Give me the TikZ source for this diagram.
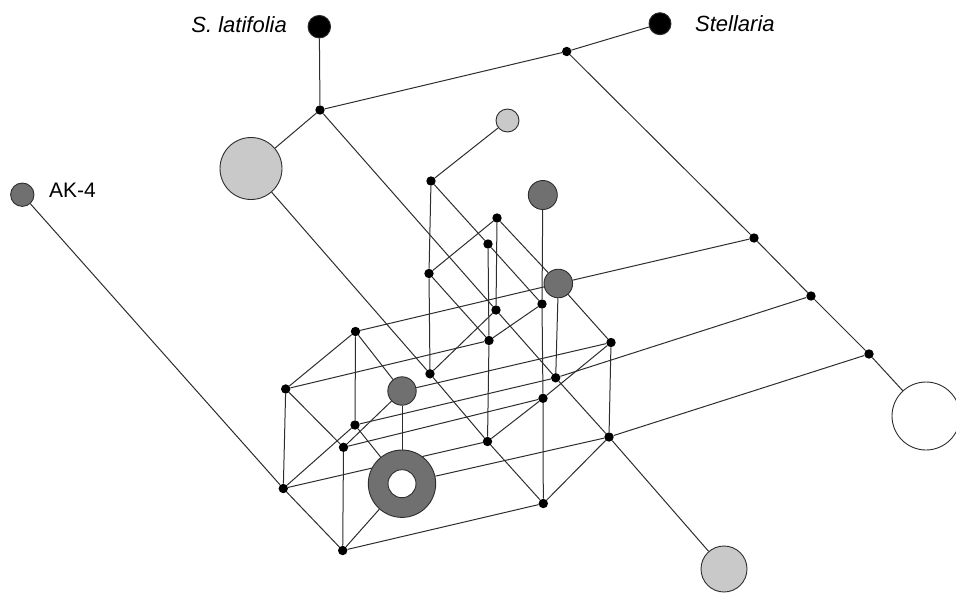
\documentclass[tikz,border=0pt]{standalone}
\usepackage{fontspec}
\setmainfont{Liberation Sans}
\usetikzlibrary{backgrounds}
\definecolor{lgray}{RGB}{201,201,201}
\definecolor{dgray}{RGB}{112,112,112}
\definecolor{edgec}{RGB}{45,45,45}
\tikzset{
  mv/.style={circle, fill=black, inner sep=0pt, minimum size=9.4pt},
  hap/.style={circle, draw=edgec, line width=0.9pt, inner sep=0pt},
  light/.style={hap, fill=lgray},
  dark/.style={hap, fill=dgray},
  blk/.style={hap, fill=black},
  wht/.style={hap, fill=white},
  link/.style={draw=edgec, line width=1pt},
  lab/.style={font=\fontsize{22}{26}\selectfont, inner sep=0pt}
}
\begin{document}
\begin{tikzpicture}[x=1pt, y=-1pt]
\useasboundingbox (0,0) rectangle (956,592);

% haplotypes
\node[blk, minimum size=22.6pt] (hSl) at (319.3,26.7) {};
\node[blk, minimum size=22pt] (hSt) at (660,23.7) {};
\node[light, minimum size=62pt] (hG1) at (251,168.5) {};
\node[light, minimum size=23pt] (hL1) at (507.5,120.5) {};
\node[dark, minimum size=29pt] (hD1) at (542.8,195) {};
\node[dark, minimum size=23.4pt] (hAK) at (22.3,194.7) {};
\node[dark, minimum size=28.6pt] (hD2) at (558.3,283.5) {};
\node[dark, minimum size=28.4pt] (hD3) at (402,391) {};
\node[dark, minimum size=67.4pt] (hDo) at (402,483.7) {};
\node[wht, minimum size=28pt] (hDi) at (402,483.7) {};
\node[wht, minimum size=68pt] (hW) at (926,416) {};
\node[light, minimum size=46pt] (hL2) at (724,569) {};

% median vectors
\node[mv] (m1) at (320,110) {};
\node[mv] (m2) at (566.7,51.5) {};
\node[mv] (m3) at (431,181) {};
\node[mv] (m4) at (754,238) {};
\node[mv] (m5) at (811,296) {};
\node[mv] (m6) at (869,354) {};
\node[mv] (m7) at (609,437) {};
\node[mv] (m8) at (611,342.5) {};
\node[mv] (na) at (497,218) {};
\node[mv] (nb) at (488,244) {};
\node[mv] (nc) at (429,273.5) {};
\node[mv] (nd) at (496,310) {};
\node[mv] (ne) at (542,304) {};
\node[mv] (nf) at (489,340.5) {};
\node[mv] (ng) at (355.5,331.5) {};
\node[mv] (nh) at (430,373.8) {};
\node[mv] (ni) at (285.7,389) {};
\node[mv] (nj) at (555.7,377.8) {};
\node[mv] (nk) at (543,398.3) {};
\node[mv] (nl) at (355,425) {};
\node[mv] (nm) at (343.5,447.3) {};
\node[mv] (nn) at (487.5,441.5) {};
\node[mv] (no) at (283.3,488.5) {};
\node[mv] (np) at (543.3,503.5) {};
\node[mv] (nq) at (342.7,550.5) {};

% labels
\node[lab, anchor=base east, font=\fontsize{22}{26}\selectfont\itshape] (tSl) at (287,32.5) {S. latifolia};
\node[lab, anchor=base west, font=\fontsize{22}{26}\selectfont\itshape] (tSt) at (695,31.5) {Stellaria};
\node[lab, anchor=base west, font=\fontsize{21}{25}\selectfont] (tAK) at (49,197) {AK-4};

\begin{pgfonlayer}{background}
% outer branches
\draw[link] (hSl) -- (m1);
\draw[link] (m1) -- (m2);
\draw[link] (m2) -- (hSt);
\draw[link] (m1) -- (hG1);
\draw[link] (m2) -- (m4) -- (m5) -- (m6) -- (hW);
\draw[link] (m1) -- (nd) -- (nj) -- (m7) -- (hL2);
\draw[link] (hG1) -- (nh) -- (nn) -- (np);
\draw[link] (hAK) -- (no);
\draw[link] (m3) -- (hL1);
% vertical edges
\draw[link] (m3) -- (nc) -- (nh);
\draw[link] (nb) -- (nf) -- (nn);
\draw[link] (na) -- (nd);
\draw[link] (hD1) -- (ne) -- (nk) -- (np);
\draw[link] (hD2) -- (nj);
\draw[link] (m8) -- (m7);
\draw[link] (ng) -- (nl);
\draw[link] (ni) -- (no);
\draw[link] (nm) -- (nq);
\draw[link] (hD3) -- (hDo);
% rising edges
\draw[link] (na) -- (nc);
\draw[link] (nh) -- (nd);
\draw[link] (ni) -- (ng);
\draw[link] (no) -- (nl);
\draw[link] (nm) -- (hD3);
\draw[link] (nq) -- (hDo);
\draw[link] (nn) -- (nk) -- (m8);
\draw[link] (np) -- (m7);
\draw[link] (nf) -- (ne);
% falling edges
\draw[link] (m3) -- (nb) -- (ne);
\draw[link] (na) -- (hD2);
\draw[link] (nc) -- (nf);
\draw[link] (ni) -- (nm);
\draw[link] (no) -- (nq);
\draw[link] (ng) -- (hD3);
\draw[link] (nl) -- (hDo);
\draw[link] (hD2) -- (m8);
% shallow edges
\draw[link] (ng) -- (hD2) -- (m4);
\draw[link] (ni) -- (nf);
\draw[link] (nl) -- (nj);
\draw[link] (nm) -- (nk);
\draw[link] (no) -- (nn);
\draw[link] (nq) -- (np);
\draw[link] (hDo) -- (m7);
\draw[link] (hD3) -- (m8);
\draw[link] (nj) -- (m5);
\draw[link] (m7) -- (m6);
\end{pgfonlayer}
\end{tikzpicture}
\end{document}
